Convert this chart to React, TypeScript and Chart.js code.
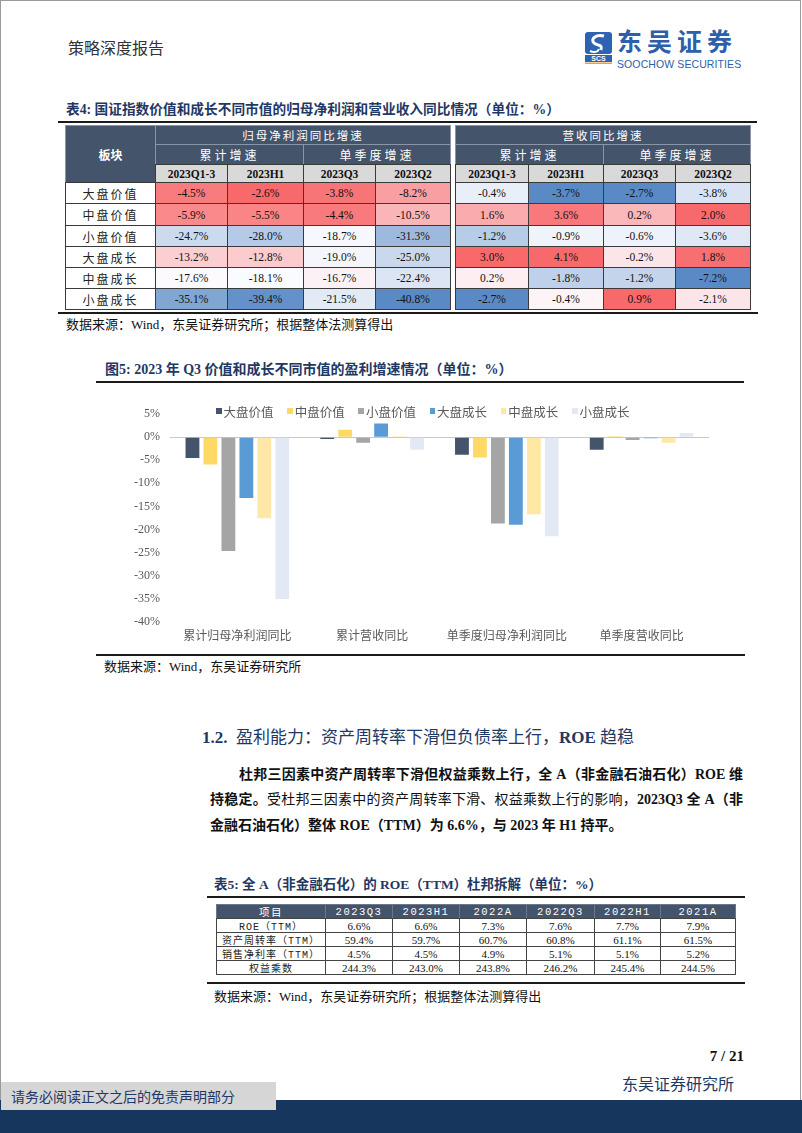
import React, { useEffect, useRef } from "react";
import { Chart, registerables } from "chart.js";
Chart.register(...registerables);

// ---------------- data ----------------
const sectors = ["大盘价值", "中盘价值", "小盘价值", "大盘成长", "中盘成长", "小盘成长"];
const periodLabels = ["2023Q1-3", "2023H1", "2023Q3", "2023Q2"];
// 归母净利润同比增速
const profitQ13 = [-4.5, -5.9, -24.7, -13.2, -17.6, -35.1];
const profitH1 = [-2.6, -5.5, -28.0, -12.8, -18.1, -39.4];
const profitQ3 = [-3.8, -4.4, -18.7, -19.0, -16.7, -21.5];
const profitQ2 = [-8.2, -10.5, -31.3, -25.0, -22.4, -40.8];
// 营收同比增速
const revQ13 = [-0.4, 1.6, -1.2, 3.0, 0.2, -2.7];
const revH1 = [-3.7, 3.6, -0.9, 4.1, -1.8, -0.4];
const revQ3 = [-2.7, 0.2, -0.6, -0.2, -1.2, 0.9];
const revQ2 = [-3.8, 2.0, -3.6, 1.8, -7.2, -2.1];

// chart
const chartCategories = ["累计归母净利润同比", "累计营收同比", "单季度归母净利润同比", "单季度营收同比"];
const seriesColors = ["#44546A", "#FFD966", "#A5A5A5", "#5B9BD5", "#FFE8A6", "#E3E9F4"];
const yMin = -40;
const yMax = 5;
const yStep = 5;

// table 5
const t5Headers = ["项目", "2023Q3", "2023H1", "2022A", "2022Q3", "2022H1", "2021A"];
const t5RowLabels = ["ROE（TTM）", "资产周转率（TTM）", "销售净利率（TTM）", "权益乘数"];
const roeTTM = [6.6, 6.6, 7.3, 7.6, 7.7, 7.9];
const assetTurnover = [59.4, 59.7, 60.7, 60.8, 61.1, 61.5];
const netMargin = [4.5, 4.5, 4.9, 5.1, 5.1, 5.2];
const equityMultiplier = [244.3, 243.0, 243.8, 246.2, 245.4, 244.5];

// ---------------- styling helpers ----------------
const SERIF = '"Liberation Serif", "Noto Sans CJK SC", serif';
const CJK = '"Noto Sans CJK SC", "Liberation Serif", sans-serif';
const MONO = '"Liberation Mono", "Noto Sans CJK SC", monospace';
const NAVY = "#1F3864";
const HEAD = "#44546A";

function median(a: number[]) {
  const s = [...a].sort((x, y) => x - y);
  const n = s.length;
  return n % 2 ? s[(n - 1) / 2] : (s[n / 2 - 1] + s[n / 2]) / 2;
}
function mix(c1: number[], c2: number[], t: number) {
  const r = c1.map((v, i) => Math.round(v + (c2[i] - v) * t));
  return `rgb(${r[0]},${r[1]},${r[2]})`;
}
const RED = [248, 105, 107];
const WHITE = [252, 252, 255];
const BLUE = [90, 138, 198];
function heat(v: number, pool: number[]) {
  const mn = Math.min(...pool), mx = Math.max(...pool), md = median(pool);
  if (v >= md) return mix(WHITE, RED, mx === md ? 0 : (v - md) / (mx - md));
  return mix(WHITE, BLUE, md === mn ? 0 : (md - v) / (md - mn));
}

function Txt(p: any) {
  const { x, y, size, children, color = "#000", weight = 400, family = SERIF, style = {}, lhf = 1.4 } = p;
  const lh = size * lhf;
  return (
    <div
      style={{
        position: "absolute", left: x, top: y - lh / 2, height: lh, lineHeight: `${lh}px`,
        fontSize: size, fontWeight: weight, color, fontFamily: family, whiteSpace: "nowrap", ...style,
      }}
    >
      {children}
    </div>
  );
}
function Cell(p: any) {
  const { x, y, w, h, bg = "#fff", border = "#3a3a3a", children, size = 11.5, weight = 400, color = "#111", family = SERIF, style = {} } = p;
  return (
    <div
      style={{
        position: "absolute", left: x, top: y, width: w + 1, height: h + 1, boxSizing: "border-box",
        border: `1px solid ${border}`, background: bg, display: "flex", alignItems: "center",
        justifyContent: "center", fontSize: size, fontWeight: weight, color, fontFamily: family,
        whiteSpace: "nowrap", ...style,
      }}
    >
      {children}
    </div>
  );
}
function HLine(p: any) {
  const { x1, x2, y, t = 2, color = "#1a1a1a" } = p;
  return <div style={{ position: "absolute", left: x1, top: y - t / 2, width: x2 - x1, height: t, background: color }} />;
}

// ---------------- chart ----------------
function BarChart() {
  const ref = useRef<HTMLCanvasElement>(null);
  useEffect(() => {
    const cols = [profitQ13, revQ13, profitQ3, revQ3];
    const datasets = sectors.map((name, i) => ({
      label: name,
      data: cols.map((c) => c[i]),
      backgroundColor: seriesColors[i],
      borderWidth: 0,
      categoryPercentage: 0.8,
      barPercentage: 0.77,
    }));
    const chart = new Chart(ref.current!, {
      type: "bar",
      data: { labels: chartCategories, datasets },
      options: {
        animation: false,
        responsive: false,
        maintainAspectRatio: false,
        layout: { padding: { top: 13, right: 7, bottom: 2, left: 0 } },
        plugins: { legend: { display: false }, tooltip: { enabled: false } },
        scales: {
          x: {
            grid: { display: false, drawTicks: false },
            border: { display: false },
            ticks: { color: "#595959", padding: 7, font: { family: CJK, size: 12 }, maxRotation: 0 },
          },
          y: {
            min: yMin,
            max: yMax,
            afterFit: (s: any) => { s.width = 74; },
            border: { display: false },
            grid: {
              drawTicks: false,
              lineWidth: 1,
              color: (ctx: any) => (ctx.tick && ctx.tick.value === 0 ? "#C8C8C8" : "rgba(0,0,0,0)"),
            },
            ticks: {
              stepSize: yStep,
              padding: 10,
              color: "#595959",
              font: { family: SERIF, size: 12 },
              callback: (v: any) => `${v}%`,
            },
          },
        },
      },
    });
    return () => chart.destroy();
  }, []);
  return (
    <canvas
      ref={ref}
      width={620}
      height={255}
      style={{ position: "absolute", left: 96, top: 397, width: 620, height: 255 }}
    />
  );
}

// ---------------- page ----------------
export default function App() {
  useEffect(() => {
    document.body.style.margin = "0";
  }, []);

  // table 4 geometry
  const leftX = [65, 155, 227, 303, 375, 450];
  const rightX = [455, 528, 603, 675, 750];
  const rowY = [182, 203, 225, 246, 267, 288, 309];
  const profitCols = [profitQ13, profitH1, profitQ3, profitQ2];
  const revCols = [revQ13, revH1, revQ3, revQ2];
  const profitPool = profitCols.flat();
  const fmt = (v: number) => `${v.toFixed(1)}%`;

  const t4 = [];
  t4.push(<Cell key="bk" x={65} y={125} w={90} h={57} bg={HEAD} border="#8a96a8" color="#fff" family={CJK} size={12} weight={700}>板块</Cell>);
  t4.push(<Cell key="h1" x={155} y={125} w={295} h={19} bg={HEAD} border="#8a96a8" color="#fff" family={CJK} size={11.5} style={{ letterSpacing: 2 }}>归母净利润同比增速</Cell>);
  t4.push(<Cell key="h2" x={455} y={125} w={295} h={19} bg={HEAD} border="#8a96a8" color="#fff" family={CJK} size={11.5} style={{ letterSpacing: 2 }}>营收同比增速</Cell>);
  const subHeads = [
    [155, 303, "累计增速"], [303, 450, "单季度增速"], [455, 603, "累计增速"], [603, 750, "单季度增速"],
  ] as any[];
  subHeads.forEach((s, i) =>
    t4.push(<Cell key={"s" + i} x={s[0]} y={144} w={s[1] - s[0]} h={20} bg={HEAD} border="#8a96a8" color="#fff" family={CJK} size={12} style={{ letterSpacing: 3 }}>{s[2]}</Cell>)
  );
  periodLabels.forEach((p, i) => {
    t4.push(<Cell key={"pl" + i} x={leftX[i + 1]} y={164} w={leftX[i + 2] - leftX[i + 1]} h={18} bg="#D9D9D9" border="#3a3a3a" weight={700} size={11.5}>{p}</Cell>);
    t4.push(<Cell key={"pr" + i} x={rightX[i]} y={164} w={rightX[i + 1] - rightX[i]} h={18} bg="#D9D9D9" border="#3a3a3a" weight={700} size={11.5}>{p}</Cell>);
  });
  sectors.forEach((s, r) => {
    const y = rowY[r];
    const h = rowY[r + 1] - y;
    t4.push(<Cell key={"rl" + r} x={65} y={y} w={90} h={h} family={CJK} size={12} color="#222" style={{ letterSpacing: 2 }}>{s}</Cell>);
    profitCols.forEach((col, c) =>
      t4.push(<Cell key={`p${r}-${c}`} x={leftX[c + 1]} y={y} w={leftX[c + 2] - leftX[c + 1]} h={h} bg={heat(col[r], profitPool)}>{fmt(col[r])}</Cell>)
    );
    revCols.forEach((col, c) =>
      t4.push(<Cell key={`r${r}-${c}`} x={rightX[c]} y={y} w={rightX[c + 1] - rightX[c]} h={h} bg={heat(col[r], col)}>{fmt(col[r])}</Cell>)
    );
  });

  // table 5
  const t5X = [216, 325, 392, 459, 526, 594, 660, 735];
  const t5Y = [904, 918, 932, 946, 960, 974];
  const t5Rows = [roeTTM, assetTurnover, netMargin, equityMultiplier];
  const t5 = [];
  t5Headers.forEach((h, i) =>
    t5.push(
      <Cell key={"t5h" + i} x={t5X[i]} y={t5Y[0]} w={t5X[i + 1] - t5X[i]} h={t5Y[1] - t5Y[0]} bg={HEAD} border="#6d7888" color="#fff" family={MONO} size={10.5} style={{ letterSpacing: 1.5 }}>{h}</Cell>
    )
  );
  t5Rows.forEach((row, r) => {
    const y = t5Y[r + 1];
    const h = t5Y[r + 2] - y;
    t5.push(<Cell key={"t5l" + r} x={t5X[0]} y={y} w={t5X[1] - t5X[0]} h={h} border="#444" family={MONO} size={10} color="#222" style={{ letterSpacing: 1 }}>{t5RowLabels[r]}</Cell>);
    row.forEach((v, c) =>
      t5.push(<Cell key={`t5-${r}-${c}`} x={t5X[c + 1]} y={y} w={t5X[c + 2] - t5X[c + 1]} h={h} border="#444" size={11} color="#111">{fmt(v)}</Cell>)
    );
  });

  const legendItems = sectors.map((s, i) => (
    <div key={"lg" + i} style={{ position: "absolute", left: 216 + i * 71.2, top: 403, height: 16, display: "flex", alignItems: "center", fontFamily: CJK, fontSize: 12.5, color: "#595959", whiteSpace: "nowrap" }}>
      <span style={{ display: "inline-block", width: 5.5, height: 5.5, background: seriesColors[i], marginRight: 2 }} />
      {s}
    </div>
  ));

  const justLine: any = { textAlign: "justify", textAlignLast: "justify", whiteSpace: "normal" };

  return (
    <div style={{ position: "absolute", left: 0, top: 0, width: 802, height: 1133, background: "#fff", overflow: "hidden" }}>
      <div style={{ position: "absolute", left: 0, top: 0, width: 801, height: 1133, boxSizing: "border-box", border: "1px solid #9a9a9a" }} />

      {/* header */}
      <Txt x={68} y={47} size={16} family={CJK} color="#333">策略深度报告</Txt>
      <svg style={{ position: "absolute", left: 584, top: 31 }} width="30" height="34" viewBox="0 0 30 34">
        <rect x="1" y="1" width="27" height="22" rx="3" fill="#2D63B0" />
        <path d="M20 5 C12 3, 6 8, 10 12 C13 15, 19 13, 17 19" stroke="#fff" strokeWidth="3" fill="none" />
        <path d="M6 20 C10 22, 14 21, 15 18" stroke="#fff" strokeWidth="2" fill="none" />
        <rect x="1" y="24" width="27" height="7" fill="#2D63B0" />
        <text x="14.5" y="30" fontSize="7" fontWeight="700" fill="#fff" textAnchor="middle" fontFamily="Liberation Sans">SCS</text>
        <rect x="1" y="31.5" width="27" height="1.5" fill="#F0A030" />
      </svg>
      <Txt x={617} y={40.5} size={25} lhf={1} weight={700} family={CJK} color="#2D5FAA" style={{ letterSpacing: 5 }}>东吴证券</Txt>
      <Txt x={617} y={64} size={10.5} lhf={1} family={'"Liberation Sans", Arial, sans-serif'} color="#2D5FAA" style={{ letterSpacing: 0.1 }}>SOOCHOW SECURITIES</Txt>

      {/* table 4 */}
      <Txt x={66} y={110} size={13.7} weight={700} color={NAVY}>表4: 国证指数价值和成长不同市值的归母净利润和营业收入同比情况（单位：%）</Txt>
      <HLine x1={58} x2={757} y={121.5} t={2} />
      {t4}
      <HLine x1={58} x2={758} y={312.5} t={2} />
      <Txt x={66} y={325} size={13} color="#111">数据来源：Wind，东吴证券研究所；根据整体法测算得出</Txt>

      {/* chart */}
      <Txt x={105} y={370} size={14} weight={700} color={NAVY}>图5: 2023 年 Q3 价值和成长不同市值的盈利增速情况（单位：%）</Txt>
      <HLine x1={96} x2={744} y={381.5} t={2} />
      <BarChart />
      {legendItems}
      <HLine x1={96} x2={745} y={655} t={2} />
      <Txt x={104} y={667} size={13} color="#111">数据来源：Wind，东吴证券研究所</Txt>

      {/* section */}
      <Txt x={202} y={738} size={17} color={NAVY}><b>1.2.</b>&nbsp;&nbsp;盈利能力：资产周转率下滑但负债率上行，<b>ROE</b> 趋稳</Txt>
      <div style={{ position: "absolute", left: 239, top: 765, width: 504, height: 20, lineHeight: "20px", fontSize: 14, fontFamily: SERIF, fontWeight: 700, color: "#111", ...justLine }}>
        杜邦三因素中资产周转率下滑但权益乘数上行，全 A（非金融石油石化）ROE 维
      </div>
      <div style={{ position: "absolute", left: 210, top: 790, width: 533, height: 20, lineHeight: "20px", fontSize: 14, fontFamily: SERIF, color: "#111", ...justLine }}>
        <b>持稳定。</b>受杜邦三因素中的资产周转率下滑、权益乘数上行的影响，<b>2023Q3 全 A（非</b>
      </div>
      <div style={{ position: "absolute", left: 210, top: 816, height: 20, lineHeight: "20px", fontSize: 14, fontFamily: SERIF, fontWeight: 700, color: "#111", whiteSpace: "nowrap" }}>
        金融石油石化）整体 ROE（TTM）为 6.6%，与 2023 年 H1 持平。
      </div>

      {/* table 5 */}
      <Txt x={214} y={885} size={13.5} weight={700} color={NAVY}>表5: 全 A（非金融石化）的 ROE（TTM）杜邦拆解（单位：%）</Txt>
      <HLine x1={207} x2={745} y={896.5} t={2} />
      {t5}
      <HLine x1={207} x2={745} y={983} t={2} />
      <Txt x={214} y={997} size={13} color="#111">数据来源：Wind，东吴证券研究所；根据整体法测算得出</Txt>

      {/* footer */}
      <div style={{ position: "absolute", right: 58, top: 1046, height: 20, lineHeight: "20px", fontSize: 15, fontWeight: 700, fontFamily: SERIF, color: "#111", whiteSpace: "pre" }}>7 / 21</div>
      <Txt x={622} y={1083} size={16} family={CJK} color={NAVY}>东吴证券研究所</Txt>
      <div style={{ position: "absolute", left: 0, top: 1100, width: 802, height: 33, background: "#17365D" }} />
      <div style={{ position: "absolute", left: 1, top: 1082, width: 275, height: 28, background: "#D6D6D6", display: "flex", alignItems: "center" }}>
        <span style={{ marginLeft: 10, fontSize: 14, fontFamily: CJK, color: NAVY }}>请务必阅读正文之后的免责声明部分</span>
      </div>
    </div>
  );
}
